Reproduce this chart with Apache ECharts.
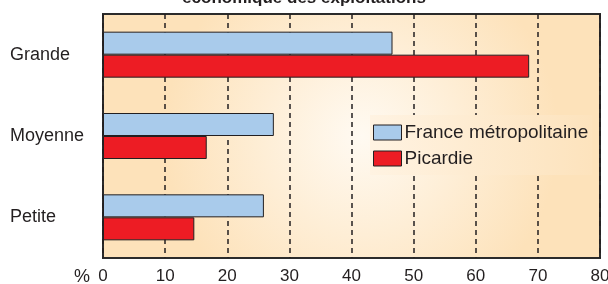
<!DOCTYPE html>
<html>
<head>
<meta charset="utf-8">
<script src="https://cdn.jsdelivr.net/npm/echarts@6/dist/echarts.min.js"></script>
<style>
  html, body { margin: 0; padding: 0; background: #fff; }
  #main { width: 608px; height: 284px; }
</style>
</head>
<body>
<div id="main"></div>
<script>
// tailles d'exploitation (de haut en bas)
var categories = ['Grande', 'Moyenne', 'Petite'];
var franceValues = [46.6, 27.5, 25.9];
var picardieValues = [68.6, 16.7, 14.7];
var seriesNames = ['France métropolitaine', 'Picardie'];

var chartDom = document.getElementById('main');
var myChart = echarts.init(chartDom);
var option;

var ink = '#231f20';
var labelFont = '"Liberation Sans", Arial, sans-serif';

option = {
    animation: false,
    title: {
        text: 'économique des exploitations',
        left: 'center',
        top: -15,
        textStyle: {
            color: ink,
            fontSize: 17,
            fontWeight: 'bold',
            fontFamily: labelFont
        }
    },
    legend: {
        orient: 'vertical',
        left: 370,
        top: 115,
        padding: [8, 4, 7, 3],
        // fond du cadre de légende : masque les pointillés
        backgroundColor: {
            type: 'linear', x: 0, y: 0, x2: 1, y2: 0,
            colorStops: [
                { offset: 0, color: '#fff3e2' },
                { offset: 0.8, color: '#fde6c4' },
                { offset: 1, color: '#fde3bd' }
            ]
        },
        icon: 'rect',
        itemWidth: 28,
        itemHeight: 15,
        itemGap: 7,
        itemStyle: { borderColor: ink, borderWidth: 1 },
        textStyle: {
            color: ink,
            fontSize: 19,
            lineHeight: 15,
            padding: [0, 0, 0, -2],
            fontFamily: labelFont
        },
        data: seriesNames
    },
    grid: {
        left: 103,
        right: 8,
        top: 14,
        bottom: 26,
        outerBoundsMode: 'none',
        show: true,
        borderColor: '#2b2b2b',
        borderWidth: 2,
        backgroundColor: {
            type: 'radial',
            x: 0.52, y: 0.5, r: 0.8,
            colorStops: [
                { offset: 0, color: '#fffaf2' },
                { offset: 1, color: '#fde2ba' }
            ]
        }
    },
    xAxis: {
        type: 'value',
        min: 0,
        max: 80,
        interval: 10,
        name: '%',
        nameLocation: 'start',
        nameGap: 13,
        nameTextStyle: {
            color: ink,
            fontSize: 18,
            fontFamily: labelFont,
            verticalAlign: 'top',
            padding: [10, 0, 0, 0]
        },
        axisLine: { show: false },
        axisTick: { show: false },
        axisLabel: {
            color: ink,
            fontSize: 17,
            margin: 10,
            fontFamily: labelFont
        },
        splitLine: {
            show: true,
            lineStyle: { color: ink, width: 1.5, type: [5, 4] }
        }
    },
    yAxis: {
        type: 'category',
        inverse: true,
        data: categories,
        axisLine: { show: false },
        axisTick: { show: false },
        axisLabel: {
            color: ink,
            fontSize: 18,
            align: 'left',
            margin: 93,
            padding: [0, 0, 6, 0],
            fontFamily: labelFont
        }
    },
    series: [
        {
            name: seriesNames[0],
            type: 'bar',
            data: franceValues,
            barWidth: 23,
            barGap: '0%',
            itemStyle: { color: '#a9cbeb', borderColor: ink, borderWidth: 1 }
        },
        {
            name: seriesNames[1],
            type: 'bar',
            data: picardieValues,
            barWidth: 23,
            itemStyle: { color: '#ed1c24', borderColor: ink, borderWidth: 1 }
        }
    ]
};

option && myChart.setOption(option);
</script>
</body>
</html>
